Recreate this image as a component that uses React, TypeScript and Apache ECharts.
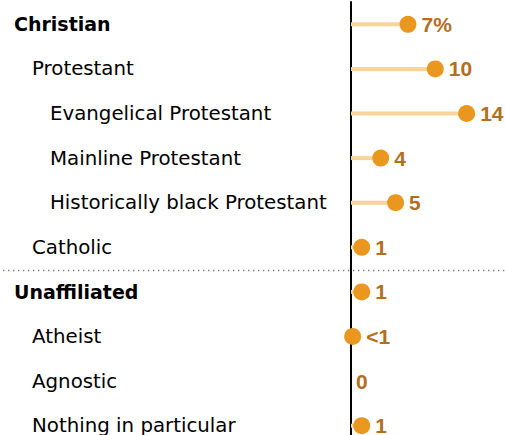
import React, { useEffect, useRef } from "react";
import * as echarts from "echarts";

const categories = [
  "Christian",
  "Protestant",
  "Evangelical Protestant",
  "Mainline Protestant",
  "Historically black Protestant",
  "Catholic",
  "Unaffiliated",
  "Atheist",
  "Agnostic",
  "Nothing in particular",
];
const levels = [0, 1, 2, 2, 2, 1, 0, 1, 1, 1];
const values = [6.9, 10.2, 14.0, 3.6, 5.4, 1.3, 1.3, 0.2, 0, 1.3];
const valueLabels = ["7%", "10", "14", "4", "5", "1", "1", "<1", "0", "1"];

const W = 505;
const H = 435;
const AXIS_X = 351;
const X_MAX = 18;
const PX_PER_UNIT = 8.26;

const FONT = "'DejaVu Sans', sans-serif";

export default function App() {
  const ref = useRef<HTMLDivElement>(null);
  useEffect(() => {
    if (!ref.current) return;
    const chart = echarts.init(ref.current, undefined, { renderer: "svg" });
    const gridWidth = X_MAX * PX_PER_UNIT;
    chart.setOption({
      animation: false,
      backgroundColor: "#ffffff",
      grid: {
        left: AXIS_X,
        width: gridWidth,
        top: 2,
        height: 446,
        containLabel: false,
        outerBoundsMode: "none",
      },
      xAxis: {
        type: "value",
        min: 0,
        max: X_MAX,
        show: false,
        splitLine: { show: false },
      },
      yAxis: {
        type: "category",
        data: categories,
        inverse: true,
        axisLine: { show: true, lineStyle: { color: "#000", width: 2 } },
        axisTick: { show: false },
        axisLabel: {
          align: "left",
          margin: AXIS_X - 14,
          fontFamily: FONT,
          fontSize: 19.8,
          color: "#000",
          formatter: (v: string, i: number) => {
            const lv = levels[i];
            if (lv === 0) return `{h|${v}}`;
            if (lv === 1) return `{a|${v}}`;
            return `{b|${v}}`;
          },
          rich: {
            h: { fontFamily: FONT, fontSize: 19, fontWeight: "bold", color: "#000" },
            a: { fontFamily: FONT, fontSize: 19.8, color: "#000", padding: [0, 0, 0, 18] },
            b: { fontFamily: FONT, fontSize: 19.8, color: "#000", padding: [0, 0, 0, 36] },
          },
        },
      },
      series: [
        {
          type: "bar",
          data: values,
          barWidth: 4,
          itemStyle: { color: "#F6D49A" },
          silent: true,
        },
        {
          type: "scatter",
          data: values.map((v) => (v === 0 ? { value: v, symbolSize: 0 } : v)),
          symbolSize: 17,
          itemStyle: { color: "#E9971F", opacity: 1 },
          label: {
            show: true,
            position: "right",
            distance: 5,
            fontFamily: "'Liberation Sans', Arial, sans-serif",
            fontWeight: "bold",
            fontSize: 21,
            color: "#B36E1E",
            formatter: (p: any) => valueLabels[p.dataIndex],
          },
        },
      ],
    });
    const y1 = chart.convertToPixel({ yAxisIndex: 0 }, categories[5]) as number;
    const y2 = chart.convertToPixel({ yAxisIndex: 0 }, categories[6]) as number;
    const ySep = Math.round((y1 + y2) / 2) + 0.5;
    chart.setOption({
      graphic: [
        {
          type: "line",
          shape: { x1: 3, y1: ySep, x2: W, y2: ySep },
          style: { stroke: "#777", lineWidth: 1.3, lineDash: [1.3, 3.7] },
          silent: true,
        },
      ],
    });
    return () => chart.dispose();
  }, []);
  return (
    <div
      ref={ref}
      style={{ position: "fixed", left: 0, top: 0, width: W, height: H, background: "#fff" }}
    />
  );
}
